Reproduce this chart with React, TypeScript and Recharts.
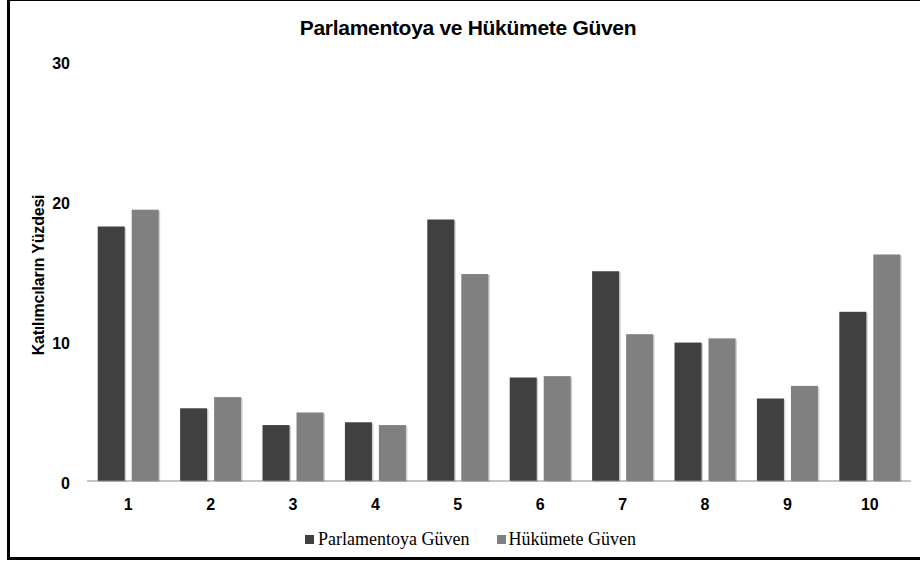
import React from "react";
import { BarChart, Bar, XAxis, YAxis, Legend } from "recharts";

const categories = ["1", "2", "3", "4", "5", "6", "7", "8", "9", "10"];
const parlamentoValues = [18.2, 5.2, 4.0, 4.2, 18.7, 7.4, 15.0, 9.9, 5.9, 12.1];
const hukumetValues = [19.4, 6.0, 4.9, 4.0, 14.8, 7.5, 10.5, 10.2, 6.8, 16.2];
const yTicks = [0, 10, 20, 30];

const data = categories.map((c, i) => ({
  name: c,
  parlamento: parlamentoValues[i],
  hukumet: hukumetValues[i],
}));

const sans = "'Liberation Sans', Arial, sans-serif";
const serif = "'Liberation Serif', 'Times New Roman', serif";

const ShadowBar = (props: any) => {
  const { x, y, width, height, fill } = props;
  if (!height || height <= 0) return null;
  return (
    <g>
      <rect x={x + 1.5} y={y + 1} width={width} height={height} fill="rgba(0,0,0,0.18)" />
      <rect x={x} y={y} width={width} height={height} fill={fill} />
    </g>
  );
};

const LegendContent = () => (
  <div
    style={{
      display: "flex",
      justifyContent: "center",
      alignItems: "center",
      fontFamily: serif,
      fontSize: 18,
      color: "#000",
      paddingLeft: 30,
      paddingTop: 2,
    }}
  >
    <span style={{ display: "flex", alignItems: "center", marginRight: 28 }}>
      <span style={{ width: 9, height: 9, background: "#404040", marginRight: 4, display: "inline-block" }} />
      Parlamentoya Güven
    </span>
    <span style={{ display: "flex", alignItems: "center" }}>
      <span style={{ width: 9, height: 9, background: "#808080", marginRight: 2, display: "inline-block" }} />
      Hükümete Güven
    </span>
  </div>
);

export default function App() {
  return (
    <div style={{ position: "fixed", left: 0, top: 0, width: 920, height: 563, background: "#fff", overflow: "hidden" }}>
      <div
        style={{
          position: "absolute",
          left: 7,
          top: -1,
          width: 920,
          height: 561,
          borderTop: "2px solid #000",
          borderLeft: "3px solid #000",
          borderBottom: "3px solid #000",
          boxSizing: "border-box",
        }}
      />
      <div
        style={{
          position: "absolute",
          left: 0,
          top: 16,
          width: 936,
          textAlign: "center",
          fontFamily: sans,
          fontWeight: "bold",
          fontSize: 21,
          letterSpacing: -0.3,
          color: "#000",
        }}
      >
        Parlamentoya ve Hükümete Güven
      </div>
      <div
        style={{
          position: "absolute",
          left: 39,
          top: 275,
          transform: "translate(-50%, -50%) rotate(-90deg)",
          whiteSpace: "nowrap",
          fontFamily: sans,
          fontWeight: "bold",
          fontSize: 16,
          letterSpacing: -0.2,
          color: "#000",
        }}
      >
        Katılımcıların Yüzdesi
      </div>
      <BarChart
        width={920}
        height={563}
        data={data}
        margin={{ top: 61.5, right: 9, left: 0, bottom: 6 }}
        barGap={7}
        barCategoryGap="13%"
      >
        <YAxis
          domain={[0, 30]}
          ticks={yTicks}
          width={87}
          axisLine={false}
          tickLine={false}
          tickMargin={11}
          tick={{ fontFamily: sans, fontWeight: "bold", fontSize: 16, fill: "#000", dy: 2 }}
        />
        <XAxis
          dataKey="name"
          height={46}
          axisLine={{ stroke: "#888", strokeWidth: 1 }}
          tickLine={false}
          tickMargin={12}
          tick={{ fontFamily: sans, fontWeight: "bold", fontSize: 16, fill: "#000" }}
        />
        <Legend verticalAlign="bottom" height={30} content={<LegendContent />} />
        <Bar dataKey="parlamento" name="Parlamentoya Güven" fill="#404040" shape={ShadowBar} isAnimationActive={false} />
        <Bar dataKey="hukumet" name="Hükümete Güven" fill="#808080" shape={ShadowBar} isAnimationActive={false} />
      </BarChart>
    </div>
  );
}
